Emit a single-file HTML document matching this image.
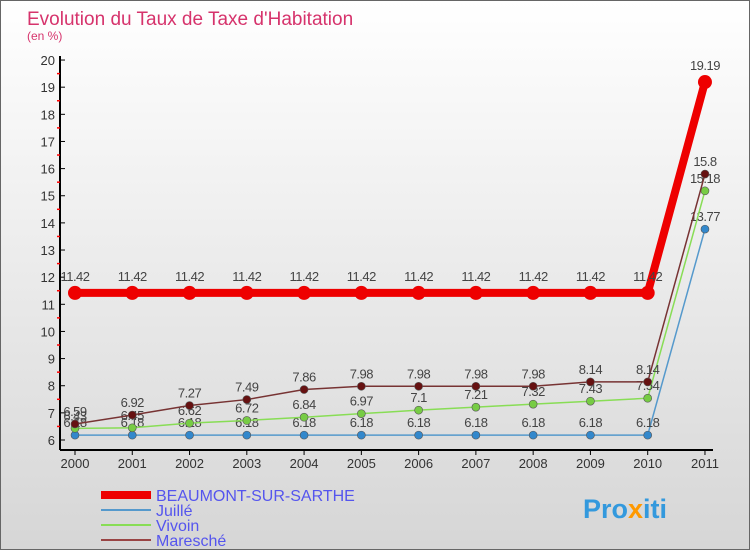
<!DOCTYPE html>
<html><head><meta charset="utf-8"><style>
body{margin:0}
#c{width:748px;height:548px;border:1px solid #666;background:linear-gradient(#fff,#d6d6d6);position:relative;overflow:hidden;font-family:"Liberation Sans",sans-serif}
text{font-family:"Liberation Sans",sans-serif}
</style></head><body>
<div id="c">
<svg id="s" width="748" height="548">
<text x="26" y="24" font-size="19" fill="#d6336c">Evolution du Taux de Taxe d'Habitation</text>
<text x="26" y="39" font-size="12" fill="#d6336c">(en %)</text>
<g id="g"></g>
<text x="582" y="517" font-size="27" font-weight="bold" fill="#3399dd">Pro<tspan fill="#ff9900">x</tspan>iti</text>
</svg></div>
<script>
const years=[2000,2001,2002,2003,2004,2005,2006,2007,2008,2009,2010,2011];
const beaumont=[11.42,11.42,11.42,11.42,11.42,11.42,11.42,11.42,11.42,11.42,11.42,19.19];
const juille=[6.18,6.18,6.18,6.18,6.18,6.18,6.18,6.18,6.18,6.18,6.18,13.77];
const vivoin=[6.43,6.45,6.62,6.72,6.84,6.97,7.1,7.21,7.32,7.43,7.54,15.18];
const maresche=[6.59,6.92,7.27,7.49,7.86,7.98,7.98,7.98,7.98,8.14,8.14,15.8];
const yTicks=[6,7,8,9,10,11,12,13,14,15,16,17,18,19,20];
const names=["BEAUMONT-SUR-SARTHE","Juillé","Vivoin","Maresché"];
const NS="http://www.w3.org/2000/svg",g=document.getElementById('g');
const X=i=>74+i*57.27, Y=v=>439-(v-6)*27.14;
function el(t,a,p){const e=document.createElementNS(NS,t);for(const k in a)e.setAttribute(k,a[k]);(p||g).appendChild(e);return e;}
const ax=el('line',{x1:59,y1:55,x2:59,y2:449,stroke:'#000','stroke-width':2});

const xx=el('line',{x1:59,y1:449,x2:712,y2:449,stroke:'#000','stroke-width':2});

yTicks.forEach(v=>{el('line',{x1:59,y1:Y(v),x2:64,y2:Y(v),stroke:'#000'});
 if(v<20)el('line',{x1:56,y1:Y(v+0.5),x2:59,y2:Y(v+0.5),stroke:'red','stroke-width':1.5});
 const t=el('text',{x:54,y:Y(v)+5,'font-size':13,'text-anchor':'end',fill:'#333'});t.textContent=v;
 });
years.forEach((y,i)=>{el('line',{x1:X(i),y1:449,x2:X(i),y2:454,stroke:'#000'});
 const t=el('text',{x:X(i),y:467,'font-size':13,'text-anchor':'middle',fill:'#333'});t.textContent=y;
 });
const series=[[juille,'#5599cc','#3388cc',1.5,4,'juille'],[vivoin,'#88dd55','#77cc44',1.5,4,'vivoin'],[maresche,'#773333','#661111',1.5,4,'maresche'],[beaumont,'#ee0000','#ee0000',8,7,'beaumont']];
series.forEach(([d,c,pc,w,r,n])=>{
 const p=el('polyline',{points:d.map((v,i)=>X(i)+','+Y(v)).join(' '),fill:'none',stroke:c,'stroke-width':w});
 
 d.forEach((v,i)=>{const ci=el('circle',{cx:X(i),cy:Y(v),r:r,fill:pc,stroke:'#555','stroke-width':w>2?0:0.6});
  
  const t=el('text',{x:X(i),y:Y(v)-(w>2?12:8),'font-size':13,'text-anchor':'middle',fill:'#444','letter-spacing':'-0.5'});t.textContent=v;
  });
});
const lc=[['#ee0000',8],['#5599cc',2],['#88dd55',2],['#994444',2]];
names.forEach((nm,i)=>{const y=494+i*15;
 el('line',{x1:100,y1:y,x2:150,y2:y,stroke:lc[i][0],'stroke-width':lc[i][1]});
 const t=el('text',{x:155,y:y+6,'font-size':16,fill:'#5555ee'});t.textContent=nm;
 });
</script></body></html>
